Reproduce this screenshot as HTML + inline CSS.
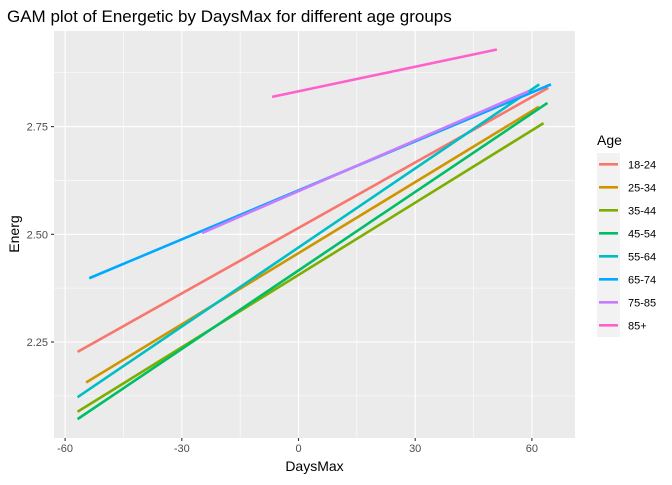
<!DOCTYPE html>
<html><head><meta charset="utf-8"><style>
body{margin:0;background:#fff;font-family:"Liberation Sans",Arial,sans-serif}
svg text{font-family:"Liberation Sans",Arial,sans-serif}
</style></head><body>
<svg id="chart" width="672" height="480">
<rect x="0" y="0" width="672" height="480" fill="#fff"/>
<text x="7" y="22" font-size="17" fill="#000">GAM plot of Energetic by DaysMax for different age groups</text>
<rect x="54" y="31" width="521" height="407" fill="#ebebeb"/>
<g id="grid"></g>
<g id="lines"></g>
<g id="axes"></g>
<text x="314.5" y="471" font-size="14" text-anchor="middle" fill="#000">DaysMax</text>
<text x="19" y="234" font-size="14" text-anchor="middle" fill="#000" transform="rotate(-90 19 234)">Energ</text>
<text x="597" y="145" font-size="14" fill="#000">Age</text>
<rect x="597" y="153" width="23" height="184" fill="#f2f2f2"/>
<g id="legend"></g>
</svg>
<script>
const groups=["18-24","25-34","35-44","45-54","55-64","65-74","75-85","85+"];
const colors=["#F8766D","#CD9600","#7CAE00","#00BE67","#00BFC4","#00A9FF","#C77CFF","#FF61CC"];
const xStart=[-56.8,-54.6,-56.8,-56.8,-56.8,-53.8,-24.8,-6.8];
const xEnd=[64.2,61.8,63.0,64.0,61.9,64.9,59.1,51.0];
const yStart=[2.227,2.156,2.088,2.071,2.122,2.398,2.503,2.819];
const yEnd=[2.840,2.796,2.758,2.805,2.848,2.848,2.832,2.929];
const xTicks=[-60,-30,0,30,60];
const xTickLabels=["-60","-30","0","30","60"];
const yTicks=[2.25,2.5,2.75];
const yTickLabels=["2.25","2.50","2.75"];
const xMinor=[-45,-15,15,45];
const yMinor=[2.125,2.375,2.625,2.875];
const NS="http://www.w3.org/2000/svg";
function sx(v){return 298.5+v*(116.7/30);}
function sy(v){return 234.3-(v-2.5)*(107.7/0.25);}
function mk(tag,attrs,parent){const e=document.createElementNS(NS,tag);for(const k in attrs)e.setAttribute(k,attrs[k]);parent.appendChild(e);return e;}
const grid=document.getElementById('grid'),lines=document.getElementById('lines'),axes=document.getElementById('axes'),legend=document.getElementById('legend');
xMinor.forEach(v=>{const l=mk('line',{x1:sx(v),x2:sx(v),y1:31,y2:438,stroke:'#fff','stroke-width':0.55},grid);

});
yMinor.forEach(v=>{const l=mk('line',{x1:54,x2:575,y1:sy(v),y2:sy(v),stroke:'#fff','stroke-width':0.55},grid);

});
xTicks.forEach((v,i)=>{const l=mk('line',{x1:sx(v),x2:sx(v),y1:31,y2:438,stroke:'#fff','stroke-width':1.1},grid);


const t=mk('line',{x1:sx(v),x2:sx(v),y1:438,y2:441,stroke:'#333','stroke-width':1.1},axes);


const tx=mk('text',{x:sx(v),y:452,'font-size':11,'text-anchor':'middle',fill:'#4d4d4d'},axes);tx.textContent=xTickLabels[i];

});
yTicks.forEach((v,i)=>{const l=mk('line',{x1:54,x2:575,y1:sy(v),y2:sy(v),stroke:'#fff','stroke-width':1.1},grid);


const t=mk('line',{x1:51,x2:54,y1:sy(v),y2:sy(v),stroke:'#333','stroke-width':1.1},axes);


const tx=mk('text',{x:48,y:sy(v)+4,'font-size':11,'text-anchor':'end',fill:'#4d4d4d'},axes);tx.textContent=yTickLabels[i];

});
groups.forEach((g,i)=>{const l=mk('line',{x1:sx(xStart[i]),y1:sy(yStart[i]),x2:sx(xEnd[i]),y2:sy(yEnd[i]),stroke:colors[i],'stroke-width':2.6},lines);


const y=164.3+i*23;
const k=mk('line',{x1:599,x2:618,y1:y,y2:y,stroke:colors[i],'stroke-width':2.6},legend);


const t=mk('text',{x:628,y:y+4,'font-size':11,fill:'#000'},legend);t.textContent=g;

});
</script>
</body></html>
